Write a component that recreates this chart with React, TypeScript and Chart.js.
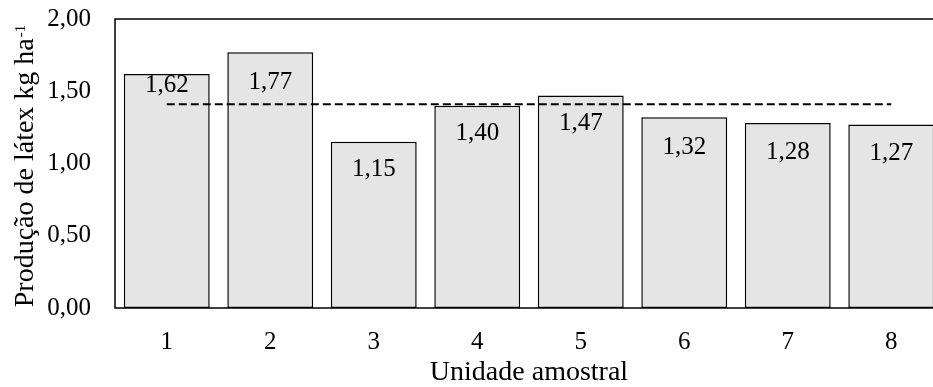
import { useEffect, useRef } from "react";
import { Chart, registerables } from "chart.js";

Chart.register(...registerables);

const categories = ["1", "2", "3", "4", "5", "6", "7", "8"];
const production = [1.62, 1.77, 1.15, 1.4, 1.47, 1.32, 1.28, 1.27];
const meanLine = [1.41, 1.41, 1.41, 1.41, 1.41, 1.41, 1.41, 1.41];
const yMin = 0;
const yMax = 2;
const yStep = 0.5;
const labelOffsets = [12, 30, 28, 28, 28, 30, 29, 29];
const xTitle = "Unidade amostral";
const yTitle = "Produção de látex kg ha";
const yTitleSup = "-1";

const FONT = "'Liberation Serif', 'Times New Roman', serif";
const fmt = (v: number) => v.toFixed(2).replace(".", ",");

const decor = {
  id: "decor",
  beforeDatasetsDraw(chart: any) {
    const { ctx, chartArea } = chart;
    const { left, top, right, bottom } = chartArea;
    ctx.save();
    ctx.strokeStyle = "#000";
    ctx.lineWidth = 1.5;
    ctx.strokeRect(left, top, right - left, bottom - top);
    ctx.restore();
  },
  afterDatasetsDraw(chart: any) {
    const { ctx } = chart;
    const meta = chart.getDatasetMeta(1);
    ctx.save();
    ctx.fillStyle = "#000";
    ctx.font = `25px ${FONT}`;
    ctx.textAlign = "center";
    ctx.textBaseline = "middle";
    meta.data.forEach((el: any, i: number) => {
      ctx.fillText(fmt(production[i]), el.x, el.y + labelOffsets[i]);
    });
    ctx.restore();
  },
  afterDraw(chart: any) {
    const { ctx, chartArea } = chart;
    const { left, top, right, bottom } = chartArea;
    ctx.save();
    ctx.fillStyle = "#000";
    ctx.font = `28px ${FONT}`;
    ctx.textAlign = "center";
    ctx.textBaseline = "alphabetic";
    ctx.fillText(xTitle, (left + right) / 2, 380);
    ctx.font = `28px ${FONT}`;
    const w1 = ctx.measureText(yTitle).width;
    ctx.font = `15px ${FONT}`;
    const w2 = ctx.measureText(yTitleSup).width;
    const total = w1 + w2;
    const cy = (top + bottom) / 2 + 3;
    ctx.translate(33, cy);
    ctx.rotate(-Math.PI / 2);
    ctx.textAlign = "left";
    ctx.font = `28px ${FONT}`;
    ctx.fillText(yTitle, -total / 2, 0);
    ctx.font = `15px ${FONT}`;
    ctx.fillText(yTitleSup, -total / 2 + w1 + 1, -8);
    ctx.restore();
  },
};

export default function App() {
  const ref = useRef<HTMLCanvasElement | null>(null);
  useEffect(() => {
    if (!ref.current) return;
    const chart = new Chart(ref.current, {
      type: "bar",
      data: {
        labels: categories,
        datasets: [
          {
            type: "line",
            data: meanLine,
            borderColor: "#000",
            borderWidth: 2.2,
            borderDash: [8, 4],
            pointRadius: 0,
            fill: false,
            order: 0,
          } as any,
          {
            type: "bar",
            data: production,
            backgroundColor: "#e5e5e5",
            borderColor: "#000",
            borderWidth: 1.5,
            borderSkipped: false,
            categoryPercentage: 1,
            barPercentage: 0.83,
            order: 1,
          },
        ],
      },
      options: {
        responsive: false,
        animation: false,
        layout: { padding: { top: 19, right: 17, left: 0, bottom: 0 } },
        plugins: {
          legend: { display: false },
          tooltip: { enabled: false },
          title: { display: false },
        },
        scales: {
          x: {
            type: "category",
            offset: true,
            grid: { display: false, drawTicks: false },
            border: { display: false },
            ticks: {
              color: "#000",
              font: { family: FONT, size: 25 },
              padding: 19,
              maxRotation: 0,
            },
            afterFit: (s: any) => {
              s.height = 79;
              s.paddingLeft = 0;
              s.paddingRight = 0;
            },
          },
          y: {
            min: yMin,
            max: yMax,
            grid: { display: false, drawTicks: false },
            border: { display: false },
            ticks: {
              stepSize: yStep,
              color: "#000",
              font: { family: FONT, size: 25 },
              padding: 24,
              callback: (v: any) => fmt(Number(v)),
            },
            afterFit: (s: any) => {
              s.width = 115;
              s.paddingTop = 0;
              s.paddingBottom = 0;
            },
          },
        },
      },
      plugins: [decor],
    });
    return () => chart.destroy();
  }, []);
  return (
    <div
      style={{
        position: "fixed",
        left: 0,
        top: 0,
        width: 933,
        height: 387,
        overflow: "hidden",
        background: "#fff",
      }}
    >
      <canvas ref={ref} width={960} height={387} style={{ width: 960, height: 387, display: "block" }} />
    </div>
  );
}
